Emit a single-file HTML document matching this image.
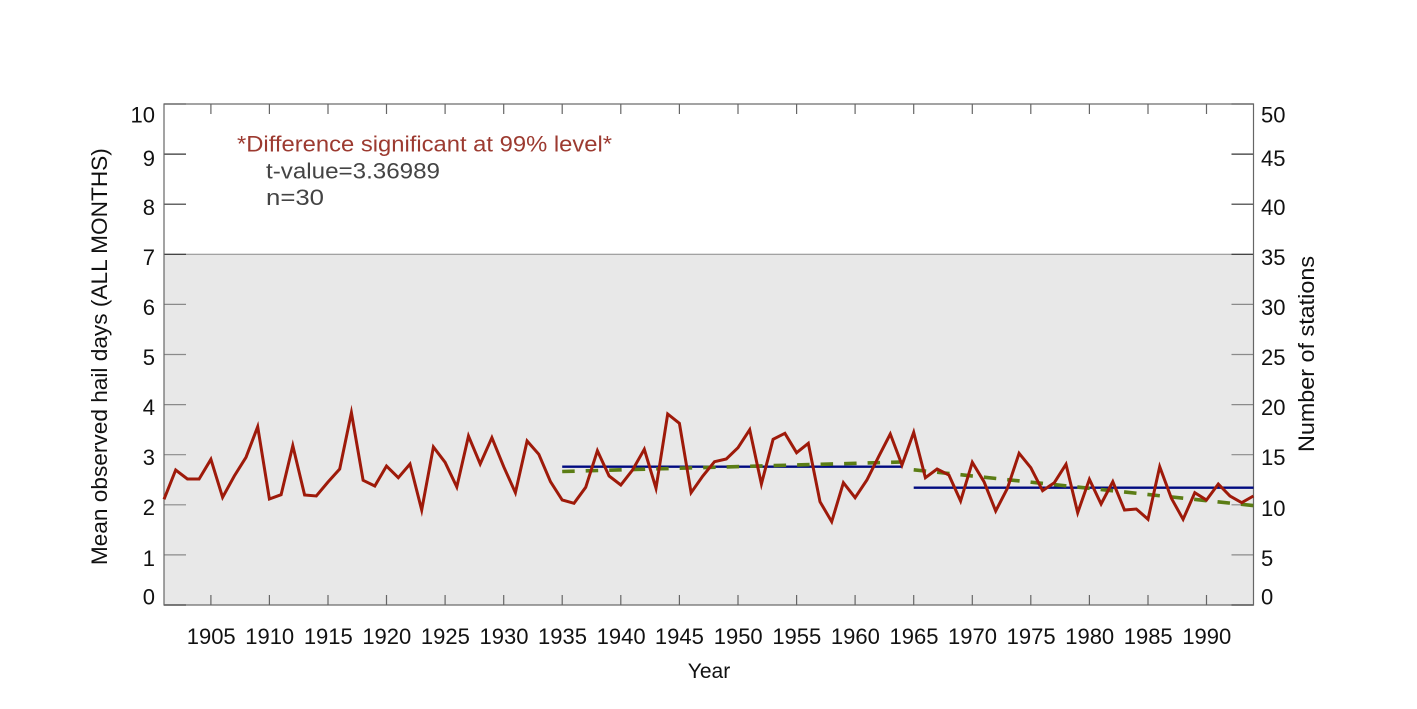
<!DOCTYPE html>
<html>
<head>
<meta charset="utf-8">
<style>
html,body{margin:0;padding:0;background:#fff;}
svg{display:block;}
text{font-family:"Liberation Sans",Arial,Helvetica,sans-serif;}
</style>
</head>
<body>
<svg width="1417" height="709" viewBox="0 0 1417 709" xmlns="http://www.w3.org/2000/svg">
<rect x="0" y="0" width="1417" height="709" fill="#ffffff"/>
<!-- gray region -->
<rect x="164" y="254.3" width="1089.5" height="350.7" fill="#e8e8e8"/>
<line x1="164" y1="254.3" x2="1253.5" y2="254.3" stroke="#8a8a8a" stroke-width="1"/>

<!-- left/right ticks -->
<g stroke="#333" stroke-width="1.2">
<line x1="164" y1="104" x2="186" y2="104"/>
<line x1="164" y1="154.1" x2="186" y2="154.1"/>
<line x1="164" y1="204.2" x2="186" y2="204.2"/>
<line x1="164" y1="254.3" x2="186" y2="254.3"/>
<line x1="1231.5" y1="104" x2="1253.5" y2="104"/>
<line x1="1231.5" y1="154.1" x2="1253.5" y2="154.1"/>
<line x1="1231.5" y1="204.2" x2="1253.5" y2="204.2"/>
<line x1="1231.5" y1="254.3" x2="1253.5" y2="254.3"/>
</g>
<g stroke="#8a8a8a" stroke-width="1.2">
<line x1="164" y1="304.4" x2="186" y2="304.4"/>
<line x1="164" y1="354.5" x2="186" y2="354.5"/>
<line x1="164" y1="404.6" x2="186" y2="404.6"/>
<line x1="164" y1="454.7" x2="186" y2="454.7"/>
<line x1="164" y1="504.8" x2="186" y2="504.8"/>
<line x1="164" y1="554.9" x2="186" y2="554.9"/>
<line x1="1231.5" y1="304.4" x2="1253.5" y2="304.4"/>
<line x1="1231.5" y1="354.5" x2="1253.5" y2="354.5"/>
<line x1="1231.5" y1="404.6" x2="1253.5" y2="404.6"/>
<line x1="1231.5" y1="454.7" x2="1253.5" y2="454.7"/>
<line x1="1231.5" y1="504.8" x2="1253.5" y2="504.8"/>
<line x1="1231.5" y1="554.9" x2="1253.5" y2="554.9"/>
</g>
<g stroke="#333" stroke-width="1.5">
<line x1="164" y1="605" x2="186" y2="605"/>
<line x1="1231.5" y1="605" x2="1253.5" y2="605"/>
</g>

<!-- x ticks top and bottom -->
<g stroke="#666" stroke-width="1.2">
<line x1="210.9" y1="104" x2="210.9" y2="114"/><line x1="210.9" y1="605" x2="210.9" y2="595"/>
<line x1="269.4" y1="104" x2="269.4" y2="114"/><line x1="269.4" y1="605" x2="269.4" y2="595"/>
<line x1="328" y1="104" x2="328" y2="114"/><line x1="328" y1="605" x2="328" y2="595"/>
<line x1="386.5" y1="104" x2="386.5" y2="114"/><line x1="386.5" y1="605" x2="386.5" y2="595"/>
<line x1="445.1" y1="104" x2="445.1" y2="114"/><line x1="445.1" y1="605" x2="445.1" y2="595"/>
<line x1="503.7" y1="104" x2="503.7" y2="114"/><line x1="503.7" y1="605" x2="503.7" y2="595"/>
<line x1="562.2" y1="104" x2="562.2" y2="114"/><line x1="562.2" y1="605" x2="562.2" y2="595"/>
<line x1="620.8" y1="104" x2="620.8" y2="114"/><line x1="620.8" y1="605" x2="620.8" y2="595"/>
<line x1="679.4" y1="104" x2="679.4" y2="114"/><line x1="679.4" y1="605" x2="679.4" y2="595"/>
<line x1="738" y1="104" x2="738" y2="114"/><line x1="738" y1="605" x2="738" y2="595"/>
<line x1="796.6" y1="104" x2="796.6" y2="114"/><line x1="796.6" y1="605" x2="796.6" y2="595"/>
<line x1="855.1" y1="104" x2="855.1" y2="114"/><line x1="855.1" y1="605" x2="855.1" y2="595"/>
<line x1="913.7" y1="104" x2="913.7" y2="114"/><line x1="913.7" y1="605" x2="913.7" y2="595"/>
<line x1="972.3" y1="104" x2="972.3" y2="114"/><line x1="972.3" y1="605" x2="972.3" y2="595"/>
<line x1="1030.8" y1="104" x2="1030.8" y2="114"/><line x1="1030.8" y1="605" x2="1030.8" y2="595"/>
<line x1="1089.4" y1="104" x2="1089.4" y2="114"/><line x1="1089.4" y1="605" x2="1089.4" y2="595"/>
<line x1="1148" y1="104" x2="1148" y2="114"/><line x1="1148" y1="605" x2="1148" y2="595"/>
<line x1="1206.5" y1="104" x2="1206.5" y2="114"/><line x1="1206.5" y1="605" x2="1206.5" y2="595"/>
</g>

<!-- frame -->
<rect x="164" y="104" width="1089.5" height="501" fill="none" stroke="#666" stroke-width="1.2"/>

<!-- blue means -->
<line x1="562.2" y1="466.7" x2="902" y2="466.7" stroke="#000a80" stroke-width="2.4"/>
<line x1="913.7" y1="487.7" x2="1253.5" y2="487.7" stroke="#000a80" stroke-width="2.4"/>

<!-- green dashed trend -->
<line x1="562.2" y1="471.5" x2="902" y2="462" stroke="#5b7d15" stroke-width="3.6" stroke-dasharray="12.5 11"/>
<line x1="913.7" y1="469.8" x2="1253.5" y2="505.6" stroke="#5b7d15" stroke-width="3.6" stroke-dasharray="12.5 11"/>

<!-- red series -->
<polyline fill="none" stroke="#9e1a0a" stroke-width="3" stroke-linejoin="miter" stroke-miterlimit="10" points="
164,499.3 175.7,470 187.4,479 199.1,479 210.9,459.3 222.6,497.3 234.3,476 246,457.3 257.7,426.7 269.4,499
281.1,494.7 292.8,445.7 304.6,495 316.3,496 328,482 339.7,469 351.4,412.7 363.1,480.3 374.8,486 386.5,466
398.3,477.7 410,464 421.7,510 433.4,447 445.1,462.3 456.8,487 468.5,436 480.2,464 491.9,437.7 503.7,466.7
515.4,492.7 527.1,441 538.8,454.3 550.5,481.7 562.2,500 574,503.3 585.7,487.3 597.4,450.7 609.1,476 620.8,485
632.5,470 644.3,449.3 656,488.3 667.7,414 679.4,423.3 691.1,492.7 702.8,476 714.5,461.7 726.3,459 738,447.7
749.7,429.7 761.4,484 773.1,439.3 784.9,433.3 796.6,452.7 808.3,443.3 820,501.7 831.7,521.7 843.4,482.7 855.1,497.7
866.9,480 878.6,456.7 890.3,434 902,465 913.7,432.3 925.4,477.7 937.1,469 948.9,475 960.6,501 972.3,462.3
984,481.7 995.7,511 1007.4,488.3 1019.1,453.3 1030.8,467.7 1042.6,490.7 1054.3,482.7 1066,464.3 1077.7,512.7 1089.4,479.3
1101.1,504 1112.8,481.7 1124.5,510 1136.3,509 1148,519.3 1159.7,466.7 1171.4,498.3 1183.1,519.3 1194.8,492.7 1206.5,500
1218.3,484 1230,496 1241.7,502.7 1253.4,496"/>

<!-- left tick labels -->
<g font-size="22" fill="#111" text-anchor="end">
<text x="155" y="122.7">10</text>
<text x="155" y="166">9</text>
<text x="155" y="215">8</text>
<text x="155" y="265">7</text>
<text x="155" y="315">6</text>
<text x="155" y="365">5</text>
<text x="155" y="415">4</text>
<text x="155" y="465">3</text>
<text x="155" y="515">2</text>
<text x="155" y="566">1</text>
<text x="155" y="604.5">0</text>
</g>
<!-- right tick labels -->
<g font-size="22" fill="#111" text-anchor="start">
<text x="1261" y="122.7">50</text>
<text x="1261" y="166">45</text>
<text x="1261" y="215">40</text>
<text x="1261" y="265">35</text>
<text x="1261" y="315">30</text>
<text x="1261" y="365">25</text>
<text x="1261" y="415">20</text>
<text x="1261" y="465">15</text>
<text x="1261" y="516">10</text>
<text x="1261" y="566">5</text>
<text x="1261" y="604.3">0</text>
</g>
<!-- x tick labels -->
<g font-size="22" fill="#111" text-anchor="middle">
<text x="211.2" y="644">1905</text>
<text x="269.7" y="644">1910</text>
<text x="328.3" y="644">1915</text>
<text x="386.8" y="644">1920</text>
<text x="445.4" y="644">1925</text>
<text x="504" y="644">1930</text>
<text x="562.5" y="644">1935</text>
<text x="621.1" y="644">1940</text>
<text x="679.4" y="644">1945</text>
<text x="738.2" y="644">1950</text>
<text x="796.8" y="644">1955</text>
<text x="855.4" y="644">1960</text>
<text x="914" y="644">1965</text>
<text x="972.5" y="644">1970</text>
<text x="1031.1" y="644">1975</text>
<text x="1089.7" y="644">1980</text>
<text x="1148.2" y="644">1985</text>
<text x="1206.8" y="644">1990</text>
</g>

<!-- axis titles -->
<text x="709" y="678" font-size="21" fill="#111" text-anchor="middle">Year</text>
<text transform="translate(107,356.7) rotate(-90)" font-size="22" fill="#111" text-anchor="middle" textLength="417" lengthAdjust="spacingAndGlyphs">Mean observed hail days (ALL MONTHS)</text>
<text transform="translate(1314,354) rotate(-90)" font-size="22" fill="#111" text-anchor="middle" textLength="196" lengthAdjust="spacingAndGlyphs">Number of stations</text>

<!-- annotation -->
<text x="237" y="151.7" font-size="22" fill="#9c3a30" textLength="375" lengthAdjust="spacingAndGlyphs">*Difference significant at 99% level*</text>
<text x="266" y="178.3" font-size="22" fill="#444" textLength="174" lengthAdjust="spacingAndGlyphs">t-value=3.36989</text>
<text x="266" y="205" font-size="22" fill="#444" textLength="58" lengthAdjust="spacingAndGlyphs">n=30</text>
</svg>
</body>
</html>
